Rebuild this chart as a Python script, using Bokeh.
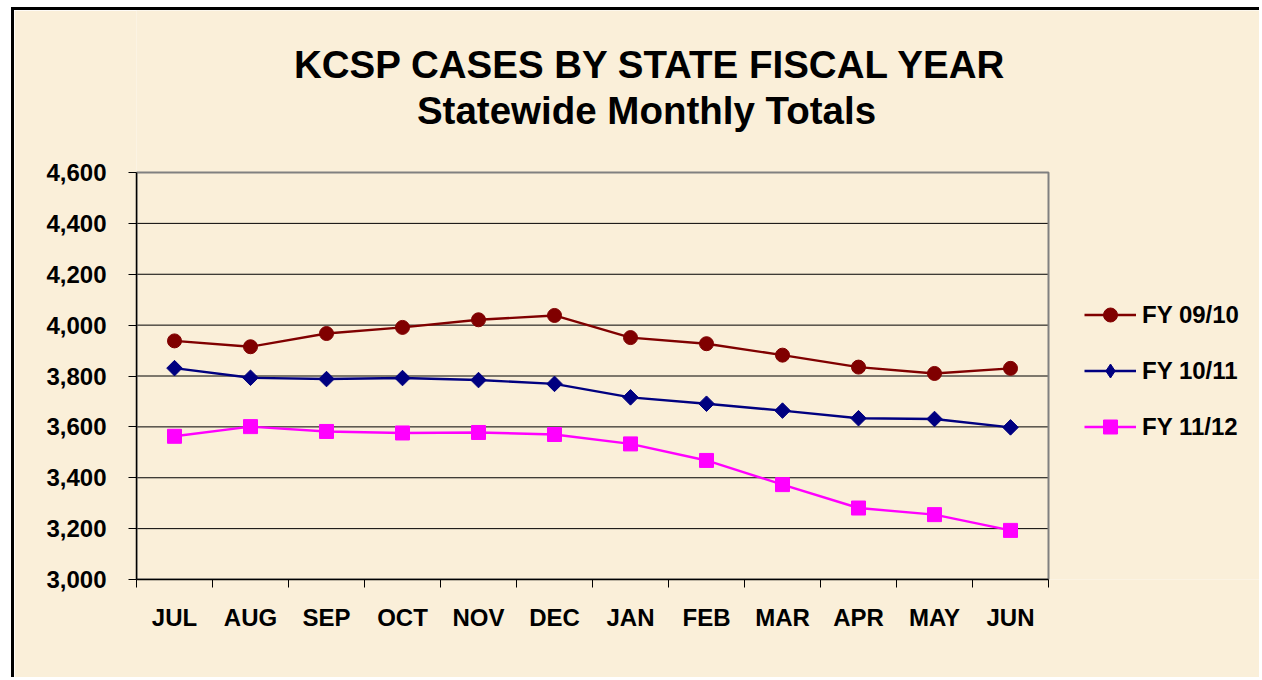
from bokeh.plotting import figure
from bokeh.models import (FixedTicker, NumeralTickFormatter, Legend, LegendItem, Label,
                          Range1d, BoxAnnotation)
from bokeh.embed import file_html
from bokeh.resources import INLINE

# ---- data ----
months = ["JUL", "AUG", "SEP", "OCT", "NOV", "DEC", "JAN", "FEB", "MAR", "APR", "MAY", "JUN"]
fy_0910 = [3938, 3915, 3967, 3991, 4021, 4038, 3951, 3927, 3882, 3835, 3810, 3830]
fy_1011 = [3831, 3793, 3788, 3792, 3784, 3769, 3716, 3691, 3664, 3634, 3631, 3598]
fy_1112 = [3563, 3601, 3582, 3576, 3578, 3570, 3533, 3468, 3373, 3281, 3255, 3193]
series_names = ["FY 09/10", "FY 10/11", "FY 11/12"]
y_ticks = [3000, 3200, 3400, 3600, 3800, 4000, 4200, 4400, 4600]
title_1 = "KCSP CASES BY STATE FISCAL YEAR"
title_2 = "Statewide Monthly Totals"

FONT = "Liberation Sans"
BG = "#FAEFD9"

# ---- geometry (pixels) ----
W, H = 1248, 670
LEFT, BOTTOM = 122, 101
FRAME_W, FRAME_H = W - LEFT, H - BOTTOM
PLOT_W, PLOT_H = 912, 407          # size of the chart box inside the frame
n = len(months)
x_end = n * FRAME_W / PLOT_W
y0, y1 = y_ticks[0], y_ticks[-1]
y_top = y0 + (y1 - y0) * FRAME_H / PLOT_H

xs = [i + 0.5 for i in range(n)]

p = figure(width=W, height=H, output_backend="svg", toolbar_location=None,
           x_range=Range1d(0, x_end), y_range=Range1d(y0, y_top),
           min_border_left=LEFT, min_border_right=0, min_border_top=0, min_border_bottom=BOTTOM,
           background_fill_color=BG, border_fill_color=BG)
p.styles = {"border-left": "3px solid black", "border-top": "3px solid black",
            "margin-left": "11px", "margin-top": "7px"}
p.outline_line_color = None

# horizontal grid lines, limited to the chart box
inner = y_ticks[1:-1]
p.segment(x0=[0] * len(inner), y0=inner, x1=[n] * len(inner), y1=inner,
          line_color="black", line_width=1, level="underlay")

# chart box (grey top/right border)
box = BoxAnnotation(left=0, right=n, bottom=y0, top=y1, fill_alpha=0,
                    line_color="#808080", line_alpha=1.0, line_width=2, level="underlay")
p.add_layout(box)

# titles
for txt, cx, cy in ((title_1, 650, 64), (title_2, 646, 110)):
    p.add_layout(Label(x=cx - 136, y=579 - cy, x_units="screen", y_units="screen", text=txt,
                       text_align="center", text_baseline="middle", text_font=FONT,
                       text_font_size="38.5px", text_font_style="bold", text_color="black"))

# axes
p.xaxis.bounds = (0, n)
p.xaxis.ticker = FixedTicker(ticks=xs, minor_ticks=list(range(n + 1)))
p.xaxis.major_label_overrides = {x: m for x, m in zip(xs, months)}
p.xaxis.major_tick_line_color = None
p.xaxis.minor_tick_line_color = "black"
p.xaxis.minor_tick_out = 8
p.xaxis.minor_tick_in = 0
p.xaxis.major_label_standoff = 16

p.yaxis.bounds = (y0, y1)
p.yaxis.ticker = FixedTicker(ticks=y_ticks, minor_ticks=[])
p.yaxis.formatter = NumeralTickFormatter(format="0,0")
p.yaxis.major_tick_out = 8
p.yaxis.major_tick_in = 0
p.yaxis.major_label_standoff = 22

for ax in (p.xaxis, p.yaxis):
    ax.axis_line_color = "black"
    ax.axis_line_width = 1.5
    ax.major_label_text_font = FONT
    ax.major_label_text_font_size = "24px"
    ax.major_label_text_font_style = "bold"
    ax.major_label_text_color = "black"

p.xgrid.grid_line_color = None
p.ygrid.grid_line_color = None

# series
specs = [
    (fy_0910, "#800000", "circle", 14, 0.0, "circle"),
    (fy_1011, "#000080", "square", 11, 0.7853981634, "diamond"),
    (fy_1112, "#FF00FF", "square", 14, 0.0, "square"),
]
items = []
for name, (vals, color, marker, size, ang, leg_marker) in zip(series_names, specs):
    ln = p.line(xs, vals, line_color=color, line_width=2.4)
    sc = p.scatter(xs, vals, marker=marker, size=size, angle=ang,
                   fill_color=color, line_color=color)
    if leg_marker != marker:
        sc_leg = p.scatter([float("nan")], [float("nan")], marker=leg_marker, size=size,
                           fill_color=color, line_color=color)
        items.append(LegendItem(label=name, renderers=[ln, sc_leg]))
    else:
        items.append(LegendItem(label=name, renderers=[ln, sc]))

legend = Legend(items=items, location=(948, 135), orientation="vertical",
                glyph_width=52, glyph_height=35, label_height=28, label_standoff=6,
                spacing=21, padding=10, margin=0,
                label_text_font=FONT, label_text_font_size="24px",
                label_text_font_style="bold", label_text_color="black",
                background_fill_alpha=0, border_line_color=None)
p.add_layout(legend, "center")

open("out.html", "w").write(file_html(p, INLINE))
